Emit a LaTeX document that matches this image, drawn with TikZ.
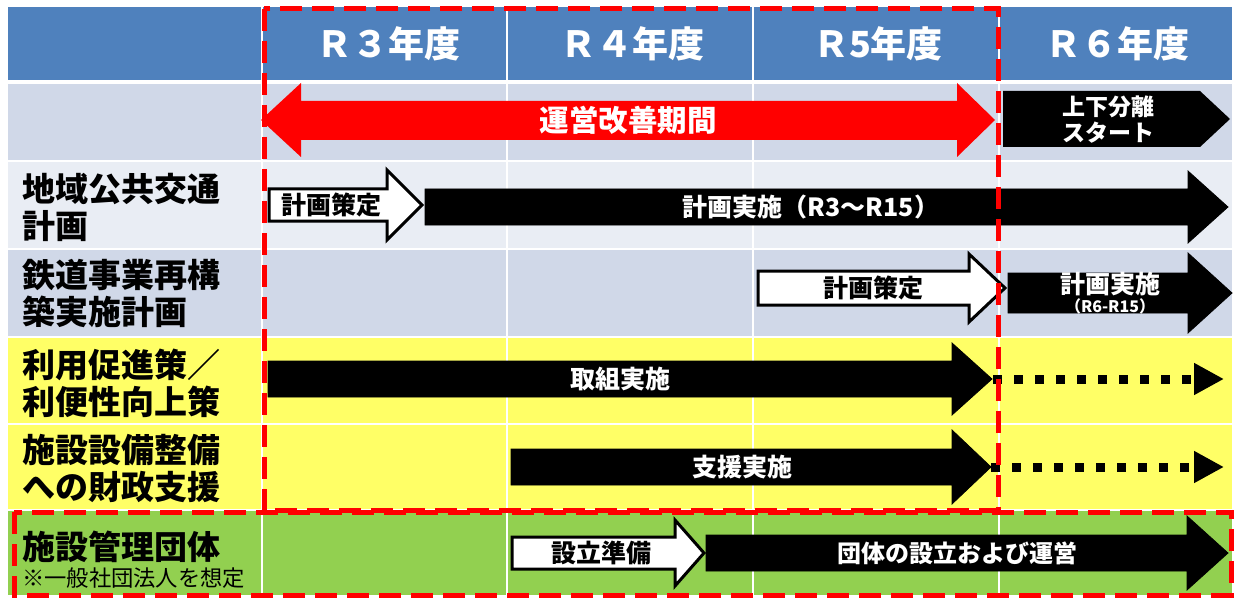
\documentclass[tikz,border=0pt]{standalone}
\usepackage{fontspec}
\newfontfamily\jp{Noto Sans CJK JP}
\usetikzlibrary{arrows.meta, positioning}

\definecolor{hdrblue}{HTML}{4F81BD}
\definecolor{banddark}{HTML}{D0D8E8}
\definecolor{bandlight}{HTML}{E9EDF4}
\definecolor{bandyellow}{HTML}{FFFF66}
\definecolor{bandgreen}{HTML}{92D050}
\definecolor{planred}{HTML}{FF0000}

% block arrow: [style]{left}{head back}{tip}{y centre}{shaft half}{head half}
\newcommand{\blockarrow}[7][]{%
  \path[#1] (#2,#5-#6) -- (#3,#5-#6) -- (#3,#5-#7) -- (#4,#5)
    -- (#3,#5+#7) -- (#3,#5+#6) -- (#2,#5+#6) -- cycle;}

\begin{document}
\begin{tikzpicture}[
  x=1pt, y=-1pt,
  year/.style={text=white, font={\jp\bfseries\fontsize{36}{40}\selectfont}},
  rowlabel/.style={anchor=west, inner sep=0pt, align=left, font={\jp\bfseries\fontsize{33}{37}\selectfont}},
  blackarrow/.style={fill=black, draw=black, line width=0.8pt},
  whitearrow/.style={fill=white, draw=black, line width=3pt, line join=miter},
  intext/.style={text=white, inner sep=0pt, font={\jp\bfseries\fontsize{25}{28}\selectfont}},
  outtext/.style={text=black, inner sep=0pt, font={\jp\bfseries\fontsize{25}{28}\selectfont}},
  reddash/.style={draw=planred, line width=5pt, dash pattern=on 22pt off 10pt},
  dotline/.style={line width=9pt, dash pattern=on 9pt off 12pt,
    -{Triangle[length=30pt, width=30pt]}}
]
\useasboundingbox (0,0) rectangle (1235,599);

% table bands
\fill[hdrblue]    (8,7)   rectangle (1232,80);
\fill[banddark]   (8,84)  rectangle (1232,160);
\fill[bandlight]  (8,162) rectangle (1232,248);
\fill[banddark]   (8,250) rectangle (1232,336);
\fill[bandyellow] (8,338) rectangle (1232,423);
\fill[bandyellow] (8,425) rectangle (1232,509);
\fill[bandgreen]  (8,511) rectangle (1232,595);
\foreach \x in {262,507,753,999}
  \draw[white, line width=2pt] (\x,7) -- (\x,595);

% year headers
\node[year] (r3) at (388,44) {Ｒ３年度};
\node[year] (r4) at (632,44) {Ｒ４年度};
\node[year] (r5) at (878,44) {Ｒ5年度};
\node[year] (r6) at (1117,44) {Ｒ６年度};

% row labels
\node[rowlabel] (plan)    at (22,207) {地域公共交通\\計画};
\node[rowlabel] (rail)    at (22,293) {鉄道事業再構\\築実施計画};
\node[rowlabel] (promo)   at (22,383) {利用促進策／\\利便性向上策};
\node[rowlabel] (support) at (22,468) {施設設備整備\\への財政支援};
\node[rowlabel] (body)    at (22,547) {施設管理団体};
\node[anchor=west, inner sep=0pt, font={\jp\fontsize{22.3}{25}\selectfont}]
  (bodynote) at (22,578) {※一般社団法人を想定};

% improvement period
\path[fill=planred] (261,120) -- (301,83) -- (301,101) -- (957,101) -- (957,83)
  -- (995,120) -- (957,157) -- (957,140) -- (301,140) -- (301,157) -- cycle;
\node[text=white, font={\jp\bfseries\fontsize{29.5}{32}\selectfont}] (period) at (628,120) {運営改善期間};
\path[fill=black] (1003,91) -- (1200,91) -- (1230,119) -- (1200,147) -- (1003,147) -- cycle;
\node[intext, align=center, font={\jp\bfseries\fontsize{23}{26}\selectfont}] (split) at (1108,120) {上下分離\\スタート};

% regional transport plan
\blockarrow[whitearrow]{269}{387}{422}{205}{16}{35}
\node[outtext] (plan1) at (331,205) {計画策定};
\blockarrow[blackarrow]{425}{1188}{1228}{207}{18}{36}
\node[intext] (plan2) at (811,207) {計画実施（R3〜R15）};

% railway plan
\blockarrow[whitearrow]{758}{969}{1005}{288}{17}{34}
\node[outtext] (rail1) at (873,288) {計画策定};
\blockarrow[blackarrow]{1008}{1188}{1232}{293}{20}{40}
\node[intext] (rail2) at (1110,284) {計画実施};
\node[intext, below=2pt of rail2, font={\jp\bfseries\fontsize{16}{18}\selectfont}] (rail2b) {（R6-R15）};

% promotion
\blockarrow[blackarrow]{268}{952}{992}{379}{18}{36}
\node[intext] (promo1) at (620,379) {取組実施};
\coordinate (promoS) at (993,379);
\coordinate (promoE) at (1224,379);
\draw[dotline] (promoS) -- (promoE);

% facility support
\blockarrow[blackarrow]{511}{952}{991}{467}{18}{37}
\node[intext] (support1) at (742,467) {支援実施};
\coordinate (supportS) at (991,467);
\coordinate (supportE) at (1224,467);
\draw[dotline] (supportS) -- (supportE);

% management body
\blockarrow[whitearrow]{512}{675}{704}{553}{16}{33}
\node[outtext] (body1) at (601,553) {設立準備};
\blockarrow[blackarrow]{706}{1187}{1228}{553}{18}{37}
\node[intext, font={\jp\bfseries\fontsize{24}{28}\selectfont}] (body2) at (957,553) {団体の設立および運営};

% framed ranges
\draw[reddash] (264,9) rectangle (998,510);
\draw[reddash] (14,512) rectangle (1231,595);
\end{tikzpicture}
\end{document}
